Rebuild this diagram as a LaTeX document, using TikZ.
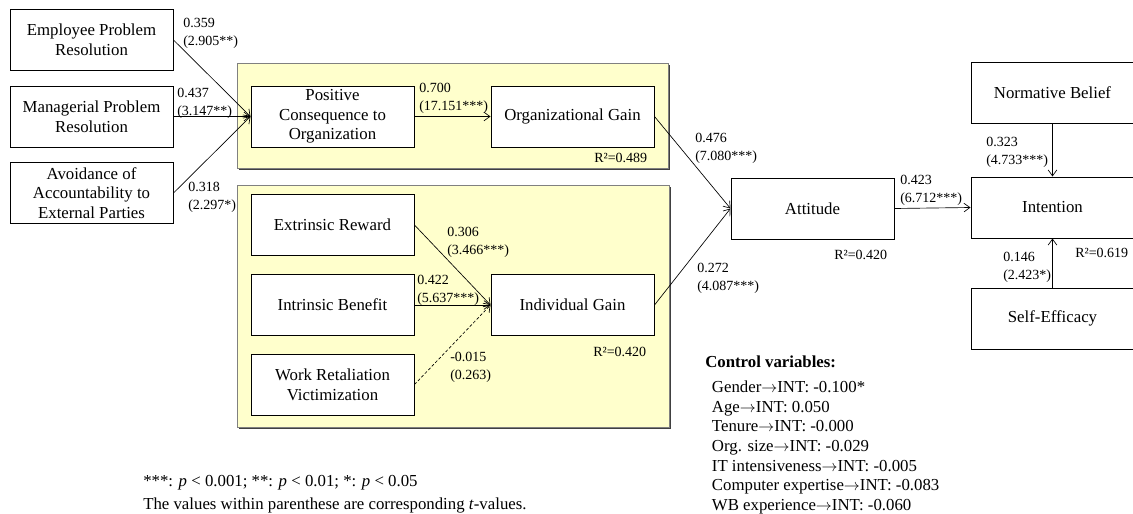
\documentclass[tikz,border=0pt]{standalone}
\usepackage{fontspec}
\setmainfont{Liberation Serif}
\usetikzlibrary{arrows.meta}
\definecolor{panelyellow}{RGB}{255,255,204}
\definecolor{panelborder}{RGB}{128,128,128}
\definecolor{panelshadow}{RGB}{64,64,64}
\newcommand{\toarr}{\ensuremath{\rightarrow}}
\begin{document}
\begin{tikzpicture}[x=0.75pt,y=-0.75pt,
  box/.style={draw, line width=0.75pt, fill=white, minimum width=122.25pt,
    minimum height=45.75pt, align=center, inner sep=0pt,
    font=\fontsize{12.6}{14.7}\selectfont},
  lbl/.style={align=left, anchor=north west, inner sep=0pt,
    font=\fontsize{10.5}{13.8}\selectfont},
  rsq/.style={anchor=base west, inner sep=0pt, font=\fontsize{10.5}{13.8}\selectfont},
  conn/.style={line width=0.5pt, -{Straight Barb[length=4.5pt,width=6.5pt]}},
  panel/.style={draw=panelborder, fill=panelyellow, line width=0.75pt},
  shadow/.style={fill=panelshadow, draw=none},
]
\useasboundingbox (0,0) rectangle (1133,514);

% panels
\fill[shadow] (239,65) rectangle (670,170);
\draw[panel] (237,63) rectangle (668,168);
\fill[shadow] (239,187) rectangle (671,429);
\draw[panel] (237,185) rectangle (669,427);

% boxes
\node[box] (epr) at (91.5,40) {Employee Problem\\Resolution};
\node[box] (mpr) at (91.5,116.5) {Managerial Problem\\Resolution};
\node[box] (aap) at (91.5,193) {Avoidance of\\Accountability to\\External Parties};
\node[box] (pco) at (332.5,116.5) {Positive\\Consequence to\\Organization};
\node[box] (og) at (572.5,116.5) {Organizational Gain};
\node[box] (er) at (332.5,225) {Extrinsic Reward};
\node[box] (ib) at (332.5,305) {Intrinsic Benefit};
\node[box] (wrv) at (332.5,384.5) {Work Retaliation\\Victimization};
\node[box] (ig) at (572.5,305) {Individual Gain};
\node[box] (att) at (812.5,208.5) {Attitude};
\node[box] (int) at (1052.5,207.5) {Intention};
\node[box] (nb) at (1052.5,92.5) {Normative Belief};
\node[box] (se) at (1052.5,318.5) {Self-Efficacy};

% connectors
\draw[conn] (epr.east) -- (pco.west);
\draw[conn] (mpr.east) -- (pco.west);
\draw[conn] (aap.east) -- (pco.west);
\draw[conn] (pco.east) -- (og.west);
\draw[conn] (er.east) -- (ig.west);
\draw[conn] (ib.east) -- (ig.west);
\draw[conn, dash pattern=on 2.25pt off 1.5pt] (wrv.east) -- (ig.west);
\draw[conn] (og.east) -- (att.west);
\draw[conn] (ig.east) -- (att.west);
\draw[conn] (att.east) -- (int.west);
\draw[conn] (nb.south) -- (int.north);
\draw[conn] (se.north) -- (int.south);

% path labels
\node[lbl] (l1) at (183,18) {0.359\\(2.905**)};
\node[lbl] (l2) at (177,88) {0.437\\(3.147**)};
\node[lbl] (l3) at (188,182) {0.318\\(2.297*)};
\node[lbl] (l4) at (419,83) {0.700\\(17.151***)};
\node[lbl] (l5) at (447,227) {0.306\\(3.466***)};
\node[lbl] (l6) at (417,275) {0.422\\(5.637***)};
\node[lbl] (l7) at (450,352) {-0.015\\(0.263)};
\node[lbl] (l8) at (695,133) {0.476\\(7.080***)};
\node[lbl] (l9) at (697,263) {0.272\\(4.087***)};
\node[lbl] (l10) at (900,175) {0.423\\(6.712***)};
\node[lbl] (l11) at (986,137) {0.323\\(4.733***)};
\node[lbl] (l12) at (1003,252) {0.146\\(2.423*)};

% R squared
\node[rsq] (r1) at (594,162.7) {R²=0.489};
\node[rsq] (r2) at (593,356.7) {R²=0.420};
\node[rsq] (r3) at (834,259.7) {R²=0.420};
\node[rsq] (r4) at (1075,257.7) {R²=0.619};

% control variables
\node[align=left, anchor=north west, inner sep=0pt,
  font=\fontsize{12.6}{14.75}\selectfont] (ctrl) at (705,355.5)
  {\textbf{Control variables:}\\[4pt]
   \hspace*{5pt}Gender\toarr INT: -0.100*\\
   \hspace*{5pt}Age\toarr INT: 0.050\\
   \hspace*{5pt}Tenure\toarr INT: -0.000\\
   \hspace*{5pt}Org. size\toarr INT: -0.029\\
   \hspace*{5pt}IT intensiveness\toarr INT: -0.005\\
   \hspace*{5pt}Computer expertise\toarr INT: -0.083\\
   \hspace*{5pt}WB experience\toarr INT: -0.060};

% footnote
\node[align=left, anchor=north west, inner sep=0pt,
  font=\fontsize{12.6}{17}\selectfont] (note) at (143,475.5)
  {***: \textit{p} < 0.001; **: \textit{p} < 0.01; *: \textit{p} < 0.05\\
   The values within parenthese are corresponding \textit{t}-values.};
\end{tikzpicture}
\end{document}
